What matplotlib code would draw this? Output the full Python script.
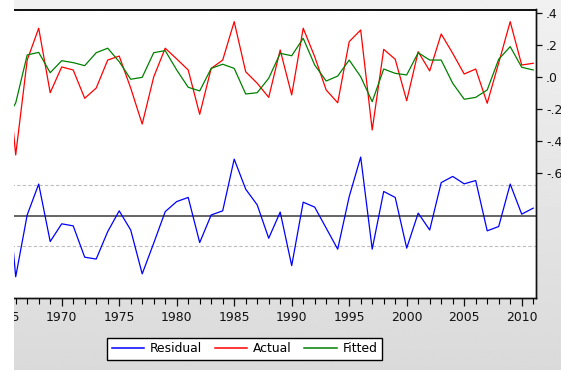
import numpy as np
import matplotlib
matplotlib.use("Agg")
import matplotlib.pyplot as plt
from matplotlib.patches import Rectangle
from matplotlib.ticker import MultipleLocator, FixedLocator

years = list(range(1965, 2012))

actual = [0.267, -0.489, 0.104, 0.303, -0.100, 0.061, 0.042, -0.135, -0.071, 0.104,
          0.129, -0.071, -0.296, -0.002, 0.178, 0.111, 0.042, -0.235, 0.052, 0.104,
          0.344, 0.031, -0.041, -0.129, 0.167, -0.114, 0.303, 0.125, -0.083, -0.163,
          0.219, 0.292, -0.333, 0.171, 0.109, -0.150, 0.156, 0.036, 0.267, 0.146,
          0.017, 0.048, -0.166, 0.086, 0.344, 0.073, 0.084]

fitted = [-0.290, -0.164, 0.136, 0.152, 0.025, 0.100, 0.088, 0.069, 0.150, 0.178,
          0.094, -0.016, -0.004, 0.150, 0.163, 0.042, -0.066, -0.089, 0.052, 0.078,
          0.052, -0.108, -0.100, -0.010, 0.146, 0.131, 0.240, 0.073, -0.027, 0.004,
          0.104, 0.000, -0.156, 0.048, 0.021, 0.011, 0.150, 0.104, 0.104, -0.041,
          -0.141, -0.129, -0.083, 0.109, 0.188, 0.059, 0.042]

residual = [0.324, -0.297, 0.003, 0.153, -0.126, -0.040, -0.050, -0.202, -0.211, -0.078,
            0.023, -0.070, -0.283, -0.134, 0.019, 0.068, 0.088, -0.131, 0.003, 0.023,
            0.274, 0.128, 0.052, -0.110, 0.017, -0.243, 0.065, 0.041, -0.061, -0.163,
            0.092, 0.284, -0.163, 0.117, 0.088, -0.158, 0.012, -0.070, 0.160, 0.190,
            0.154, 0.170, -0.074, -0.053, 0.153, 0.007, 0.036]

resid_sd = 0.15

xtick_years = [1965, 1970, 1975, 1980, 1985, 1990, 1995, 2000, 2005, 2010]
xtick_labels = ["1965", "1970", "1975", "1980", "1985", "1990", "1995", "2000", "2005", "2010"]
ytick_vals = [0.4, 0.2, 0.0, -0.2, -0.4, -0.6]
ytick_labels = [".4", ".2", ".0", "-.2", "-.4", "-.6"]

plt.rcParams['font.family'] = ['DejaVu Sans']
FS = 8.9

W, H = 561, 370
fig = plt.figure(figsize=(W / 100, H / 100), dpi=100)

# background gradient
bg = fig.add_axes([0, 0, 1, 1], zorder=-10)
grad = np.linspace(0.945, 0.855, 256).reshape(-1, 1)
bg.imshow(grad, aspect='auto', cmap='gray', vmin=0, vmax=1, extent=[0, 1, 0, 1])
bg.set_axis_off()

left_px, right_px, top_px, bot_px = 0, 535.7, 9.5, 298
ax = fig.add_axes([left_px / W, 1 - bot_px / H, (right_px - left_px) / W, (bot_px - top_px) / H])
ax.set_facecolor('white')

px_per_year = 11.5
x1970 = 61.7
xmin = 1970 - (x1970 - left_px) / px_per_year
xmax = 1970 + (right_px - x1970) / px_per_year

# residual axis (left)
ax.axhline(0, color='#3a3a3a', lw=1.1, zorder=1)
ax.axhline(resid_sd, color='#bdbdbd', lw=0.8, dashes=(3, 2), zorder=1)
ax.axhline(-resid_sd, color='#bdbdbd', lw=0.8, dashes=(3, 2), zorder=1)
l_res, = ax.plot(years, residual, color='#0000ff', lw=0.9, zorder=2)
ax.set_ylim(-0.4, 1.0)
ax.set_xlim(xmin, xmax)
ax.tick_params(axis='y', left=False, labelleft=False)

ax2 = ax.twinx()
l_act, = ax2.plot(years, actual, color='#ff0000', lw=0.9)
l_fit, = ax2.plot(years, fitted, color='#008000', lw=0.9)
ax2.set_ylim(0.4 - (bot_px - 12.7) / 160.0, 0.4 + (12.7 - top_px) / 160.0)
ax2.set_xlim(xmin, xmax)
ax2.yaxis.set_major_locator(FixedLocator(ytick_vals))
ax2.set_yticklabels(ytick_labels)
ax2.tick_params(axis='y', direction='out', length=4, width=0.9, pad=3.5,
                labelsize=FS, colors='#111111')

ax.set_xticks(xtick_years)
ax.set_xticklabels(xtick_labels)
ax.xaxis.set_minor_locator(MultipleLocator(1))
ax.tick_params(axis='x', which='major', direction='out', length=6, width=0.9,
               pad=3.5, labelsize=FS, colors='#111111')
ax.tick_params(axis='x', which='minor', direction='out', length=4.2, width=0.8)

for a in (ax, ax2):
    a.spines['left'].set_visible(False)
    a.spines['top'].set_linewidth(1.3)
    a.spines['right'].set_linewidth(1.0)
    a.spines['bottom'].set_linewidth(1.0)
    for s in a.spines.values():
        s.set_color('#111111')

leg = fig.legend([l_res, l_act, l_fit], ["Residual", "Actual", "Fitted"],
                 loc='center', bbox_to_anchor=(244.5 / W, 1 - 348.8 / H), ncol=3,
                 fontsize=FS, handlelength=2.65, handletextpad=0.45, columnspacing=1.0,
                 borderpad=0.35, fancybox=False, shadow=False, framealpha=1,
                 edgecolor='black', facecolor='white')
leg.get_frame().set_linewidth(1.0)
for lh in leg.get_lines():
    lh.set_linewidth(1.1)

# white strip on the left edge
fig.patches.append(Rectangle((0, 0), 13.5 / W, 1, transform=fig.transFigure,
                             facecolor='white', edgecolor='none', zorder=100))

fig.savefig("out.png", dpi=100)
